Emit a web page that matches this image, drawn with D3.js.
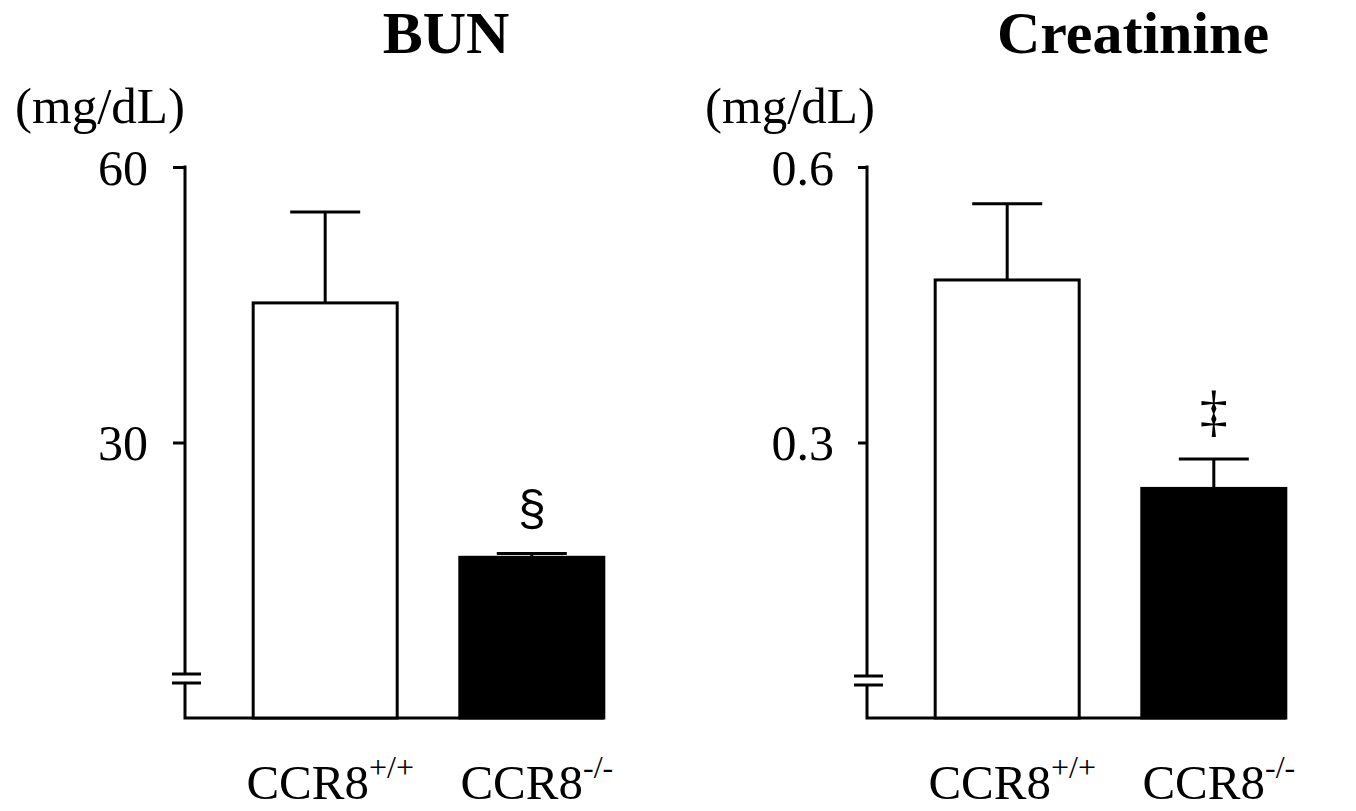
<!DOCTYPE html>
<html>
<head>
<meta charset="utf-8">
<script src="https://cdn.jsdelivr.net/npm/d3@7"></script>
<style>
	body { margin: 0; background: #fff; }
	svg { display: block; font-family: "Liberation Serif", "Times New Roman", serif; }
</style>
</head>
<body>
<svg id="chart"></svg>
<script>
// data
const groups = ["CCR8", "CCR8"]
const genotypes = ["+/+", "-/-"]
const fills = ["#fff", "#000"]

const bunMean = [45.2, 17.5]
const bunSem = [9.9, 0.4]
const bunTicks = [30, 60]
const bunMarks = ["", "§"]

const creatMean = [0.477, 0.25]
const creatSem = [0.083, 0.032]
const creatTicks = [0.3, 0.6]
const creatMarks = ["", "‡"]

const width = 1356
const height = 811
const baseY = 718
const topY = 167

const svg = d3.select("#chart")
	.attr("width", width)
	.attr("height", height)

svg.append("rect").attr("width", width).attr("height", height).attr("fill", "#fff")

function drawPanel(opt) {
	const g = svg.append("g")
	const axisX = opt.axisX

	const x = d3.scaleBand()
		.domain(d3.range(opt.mean.length))
		.range([axisX, axisX + 487])
		.paddingInner(0.303)
		.paddingOuter(0.33)
	const y = d3.scaleLinear()
		.domain([0, opt.max])
		.range([baseY, topY])

	// title + unit
	g.append("text")
		.attr("x", opt.titleX)
		.attr("y", 53)
		.attr("text-anchor", "middle")
		.style("font-size", "60px")
		.style("font-weight", "bold")
		.text(opt.title)
	g.append("text")
		.attr("x", axisX + opt.unitDx)
		.attr("y", 123)
		.attr("text-anchor", "end")
		.style("font-size", "51px")
		.text("(mg/dL)")

	// y axis: ticks + labels, domain drawn by hand so it can be broken
	const yAxis = g.append("g")
		.attr("transform", "translate(" + axisX + ",0)")
		.call(d3.axisLeft(y).tickValues(opt.ticks).tickSize(opt.tickLen).tickPadding(opt.tickPad).tickFormat(d3.format(opt.fmt)))
	yAxis.select(".domain").remove()
	yAxis.selectAll(".tick line").attr("stroke", "#000").attr("stroke-width", 3)
	yAxis.selectAll(".tick text")
		.attr("fill", "#000")
		.style("font-family", "Liberation Serif, serif")
		.style("font-size", "50px")
		.attr("dy", "0.34em")

	const gapTop = opt.breakY, gapBot = opt.breakY + 9
	g.append("path")
		.attr("d", "M" + axisX + "," + (topY - 1.5) + "V" + gapTop +
			"M" + axisX + "," + gapBot + "V" + baseY + "H" + (x(1) + x.bandwidth()))
		.attr("fill", "none")
		.attr("stroke", "#000")
		.attr("stroke-width", 3)
	g.selectAll(".brk")
		.data([gapTop, gapBot])
		.join("line")
		.attr("x1", axisX - 13)
		.attr("x2", axisX + 16)
		.attr("y1", d => d)
		.attr("y2", d => d)
		.attr("stroke", "#000")
		.attr("stroke-width", 3)

	const rows = opt.mean.map((m, i) => ({ i: i, mean: m, sem: opt.sem[i], mark: opt.marks[i] }))

	// error bars (upper only)
	const capHalf = 35
	g.selectAll(".err")
		.data(rows)
		.join("path")
		.attr("d", d => {
			const cx = x(d.i) + x.bandwidth() / 2
			return "M" + cx + "," + y(d.mean) + "V" + y(d.mean + d.sem) +
				"M" + (cx - capHalf) + "," + y(d.mean + d.sem) + "H" + (cx + capHalf)
		})
		.attr("fill", "none")
		.attr("stroke", "#000")
		.attr("stroke-width", 3)

	g.selectAll(".bar")
		.data(rows)
		.join("rect")
		.attr("x", d => x(d.i))
		.attr("y", d => y(d.mean))
		.attr("width", x.bandwidth())
		.attr("height", d => baseY - y(d.mean))
		.attr("fill", d => fills[d.i])
		.attr("stroke", "#000")
		.attr("stroke-width", 3)

	// significance marks
	g.selectAll(".mark")
		.data(rows.filter(d => d.mark))
		.join("text")
		.attr("x", d => x(d.i) + x.bandwidth() / 2)
		.attr("y", d => y(d.mean + d.sem) - 29)
		.attr("text-anchor", "middle")
		.style("font-family", d => d.mark === "§" ? "Liberation Sans, sans-serif" : "Liberation Serif, serif")
		.style("font-size", d => d.mark === "§" ? "50px" : "56px")
		.text(d => d.mark)

	// category labels with superscript
	const lab = g.selectAll(".cat")
		.data(rows)
		.join("text")
		.attr("x", d => x(d.i) + x.bandwidth() / 2 + 5)
		.attr("y", 799)
		.attr("text-anchor", "middle")
		.style("font-size", "49px")
	lab.append("tspan").text(d => groups[d.i])
	lab.append("tspan")
		.attr("dy", -21)
		.style("font-size", "32px")
		.text(d => genotypes[d.i])
}

drawPanel({ axisX: 185, max: 60, mean: bunMean, sem: bunSem, ticks: bunTicks, marks: bunMarks,
	fmt: "d", title: "BUN", titleX: 446, unitDx: 0, tickLen: 12, tickPad: 25, breakY: 674 })
drawPanel({ axisX: 867, max: 0.6, mean: creatMean, sem: creatSem, ticks: creatTicks, marks: creatMarks,
	fmt: ".1f", title: "Creatinine", titleX: 1133, unitDx: 8, tickLen: 9, tickPad: 24, breakY: 676 })
</script>
</body>
</html>
